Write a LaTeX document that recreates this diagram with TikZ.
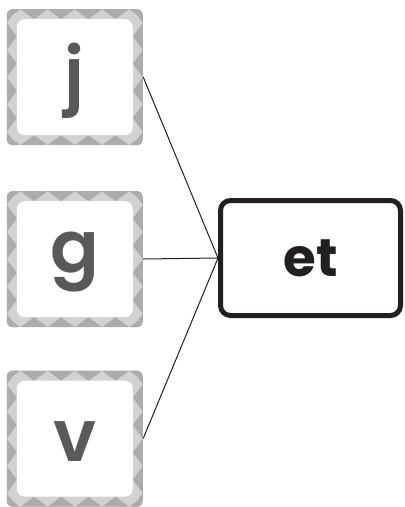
\documentclass[tikz,border=0pt]{standalone}
\usepackage{fontspec}
\newfontfamily\tilefont{Poppins}[UprightFont=* SemiBold, BoldFont=* Bold]
\usetikzlibrary{positioning}
\pgfdeclarelayer{background}
\pgfsetlayers{background,main}

\definecolor{tiledark}{HTML}{ABACAE}
\definecolor{tilelight}{HTML}{D1D2D4}
\definecolor{lettergray}{HTML}{58595B}
\definecolor{linegray}{HTML}{231F20}

\tikzset{
  tile/.style={minimum size=136pt, inner sep=0pt,
    label={[letter, yshift=-3.5pt]center:#1}},
  letter/.style={text=lettergray, inner sep=0pt,
    font=\tilefont\fontsize{72}{72}\selectfont},
  wordbox/.style={draw=linegray, line width=5pt, rounded corners=10pt,
    minimum width=180pt, minimum height=115pt, inner sep=0pt,
    font=\tilefont\bfseries\fontsize{53}{53}\selectfont, text=linegray},
  link/.style={draw=linegray, line width=1pt}
}

\begin{document}
\begin{tikzpicture}
  \useasboundingbox (0,0) rectangle (405pt,-507pt);
  \node[tile=j] (J) at (75pt,-77pt) {};
  \node[tile=g] (G) at (75pt,-259pt) {};
  \node[tile=v] (V) at (75pt,-438.5pt) {};
  \node[wordbox] (ET) at (310.5pt,-258pt) {et};
  \path[link] (J.east) -- (ET.west)
              (G.east) -- (ET.west)
              (V.east) -- (ET.west);
  % patterned frames behind the letters
  \begin{pgfonlayer}{background}
    \foreach \n in {J,G,V} {
      \begin{scope}[shift={(\n.south west)}]
        \begin{scope}
          \clip[rounded corners=6pt] (0,0) rectangle (136pt,136pt);
          \fill[tilelight] (0,0) rectangle (136pt,136pt);
          \foreach \i in {0,...,5} {
            \fill[tiledark] (\i*27.2pt-13.6pt,0) -- ++(27.2pt,0) -- ++(-13.6pt,10pt) -- cycle;
            \fill[tiledark] (\i*27.2pt-13.6pt,136pt) -- ++(27.2pt,0) -- ++(-13.6pt,-10pt) -- cycle;
            \fill[tiledark] (0,\i*27.2pt-13.6pt) -- ++(0,27.2pt) -- ++(10pt,-13.6pt) -- cycle;
            \fill[tiledark] (136pt,\i*27.2pt-13.6pt) -- ++(0,27.2pt) -- ++(-10pt,-13.6pt) -- cycle;
          }
        \end{scope}
        \fill[white, rounded corners=8pt] (10pt,10pt) rectangle (126pt,126pt);
      \end{scope}
    }
  \end{pgfonlayer}
\end{tikzpicture}
\end{document}
